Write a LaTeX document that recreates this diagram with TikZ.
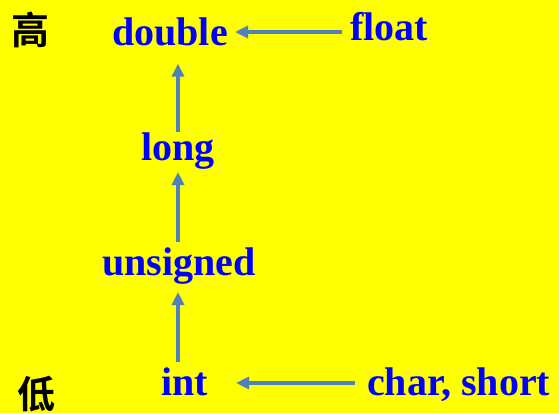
\documentclass[tikz,border=0pt]{standalone}
\usepackage{fontspec}
\setmainfont{Liberation Serif}
\newfontfamily\cjk{Noto Sans CJK SC}[BoldFont={* Bold}]
\usetikzlibrary{arrows.meta,calc}
\definecolor{bgyellow}{RGB}{255,255,0}
\definecolor{txtblue}{RGB}{0,0,255}
\definecolor{arrblue}{RGB}{79,129,189}
\begin{document}
\begin{tikzpicture}[x=1pt,y=-1pt,
  lbl/.style={inner sep=0pt,anchor=base west,text=txtblue,font=\fontsize{40}{48}\selectfont\bfseries},
  cjklbl/.style={inner sep=0pt,anchor=center,text=black,font=\fontsize{38}{44}\selectfont\cjk\bfseries},
  arr/.style={draw=arrblue,line width=3.5pt,-{Triangle[length=13pt,width=12pt]}}]
\fill[bgyellow] (0,0) rectangle (559,413);
\useasboundingbox (0,0) rectangle (559,413);
\node[cjklbl] (gao) at (30,30) {高};
\node[cjklbl] (di) at (36,394) {低};
\node[lbl] (double) at (112,45) {double};
\node[lbl] (float) at (350,40) {float};
\node[lbl] (long) at (141,160) {long};
\node[lbl] (unsigned) at (102,275) {unsigned};
\node[lbl] (int) at (161,395) {int};
\node[lbl] (char) at (367,395) {char, short};
\coordinate (ax) at (178,0);
\draw[arr,shorten <=8pt,shorten >=7pt] (float.west |- 0,32) -- (double.east |- 0,32);
\draw[arr,shorten <=12pt,shorten >=28pt] (char.west |- 0,383) -- (int.east |- 0,383);
\draw[arr,shorten <=0pt,shorten >=18pt] (long.north -| ax) -- (double.south -| ax);
\draw[arr,shorten <=5pt,shorten >=3pt] (unsigned.north -| ax) -- (long.south -| ax);
\draw[arr,shorten <=5pt,shorten >=8pt] (int.north -| ax) -- (unsigned.south -| ax);
\end{tikzpicture}
\end{document}
